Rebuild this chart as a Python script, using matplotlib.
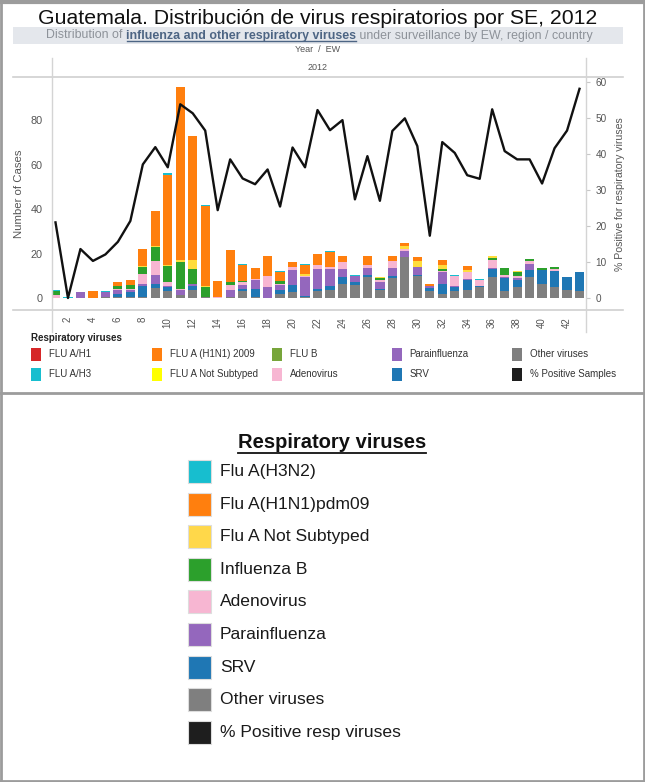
import numpy as np
import matplotlib
matplotlib.use("Agg")
import matplotlib.pyplot as plt
from matplotlib.patches import Rectangle
from matplotlib.lines import Line2D

plt.rcParams['font.family'] = ['Liberation Sans', 'DejaVu Sans']

# Data (epidemiological weeks 1..43)
weeks = np.arange(1, 44)
other = [0, 0, 0, 0, 0.5, 0.5, 0.5, 0.5, 4.5, 3, 1.5, 3.5, 0.5, 0, 0.5, 3, 0.5, 0, 2, 2.5, 0.5, 3,
         3.5, 6.5, 6, 9.5, 3.5, 9, 18.5, 10, 3, 2, 3, 3.5, 5, 9.5, 3, 5, 9.5, 6.5, 5, 3.5, 3]
srv = [0, 0, 0, 0, 0, 1.5, 2, 5, 2, 2, 0, 2, 0, 0, 0, 1, 3.5, 0, 1.5, 3.5, 0.5, 1,
       2, 3, 1, 1, 0.5, 1, 0, 0.5, 1.5, 4.5, 2, 4.5, 0.5, 3.5, 6, 3, 3, 6, 7, 6, 8.5]
parainfluenza = [0, 0, 2.5, 0, 2, 1.5, 1, 1, 4, 0.5, 2, 1, 0, 0, 3, 2, 4, 5, 2.5, 6.5, 8.5, 9,
                 7.5, 3.5, 3, 3, 3, 3.5, 2.5, 3.5, 1, 5, 0.5, 0.5, 0, 0.5, 0.5, 1, 3, 0, 0, 0, 0]
adenovirus = [1.5, 0, 0, 0, 0, 0.5, 0.5, 4.5, 6, 1.5, 0.5, 0, 0, 0.5, 2.5, 1, 0.5, 5, 0.5, 1.5, 0.5, 2,
              1, 3, 0, 1.5, 1, 3, 1, 0, 0, 0.5, 4.5, 3, 2.5, 3.5, 1, 1, 1, 0, 1, 0, 0]
flu_b = [1.5, 0, 0, 0, 0, 1.5, 2, 3, 6.5, 7.5, 12, 6.5, 4.5, 0, 1, 0.5, 0, 0, 1, 0, 0, 0,
         0, 0, 0, 0, 1, 0, 0, 0, 0, 1, 0, 0, 0, 1, 3, 1.5, 1, 1, 1, 0, 0]
not_subtyped = [0, 0, 0, 0, 0, 0, 0, 0.5, 0.5, 0.5, 1, 4, 0.5, 0, 0, 0, 0, 0, 0, 0, 1, 0,
                0, 0, 0, 0, 0.5, 0, 1.5, 2.5, 0, 2, 0, 1, 0, 1, 0, 0.5, 0, 0, 0, 0, 0]
h1n1_2009 = [0, 0, 0, 3, 0, 1.5, 2, 7.5, 15.5, 40.5, 78, 56, 36, 7, 14.5, 7.5, 5, 9, 4, 2, 4, 5,
             6.5, 3, 0, 4, 0, 2.5, 1, 2, 1, 2, 0, 2, 0, 0, 0, 0, 0, 0, 0, 0, 0]
h3 = [0.5, 0.3, 0, 0, 0.5, 0, 0, 0, 0, 0.5, 0, 0, 0.5, 0, 0, 0.5, 0, 0, 0.5, 0, 0.5, 0,
      0.5, 0, 0.5, 0, 0, 0, 0, 0, 0, 0, 0.5, 0, 0.5, 0, 0, 0, 0, 0, 0, 0, 0]
pct_positive = [21.0, 0, 13.6, 10.3, 12.1, 15.6, 21.4, 37.1, 41.9, 36.3, 53.8, 51.3, 46.5, 24.4,
                38.5, 33.2, 31.6, 35.7, 25.4, 41.8, 36.3, 52.2, 46.6, 49.4, 27.4, 39.4, 27.0,
                46.4, 49.9, 42.2, 17.3, 43.3, 40.3, 34.1, 33.1, 52.4, 40.8, 38.5, 38.5, 31.8,
                41.6, 46.5, 58.1]

stack = [
    (other, '#7f7f7f'),
    (srv, '#1f77b4'),
    (parainfluenza, '#9467bd'),
    (adenovirus, '#f7b6d2'),
    (flu_b, '#2ca02c'),
    (not_subtyped, '#ffdc3c'),
    (h1n1_2009, '#ff7f0e'),
    (h3, '#17becf'),
]

top_legend = [
    ('FLU A/H1', '#d62728'), ('FLU A/H3', '#17becf'),
    ('FLU A (H1N1) 2009', '#ff7f0e'), ('FLU A Not Subtyped', '#ffff00'),
    ('FLU B', '#77a53a'), ('Adenovirus', '#f7b6d2'),
    ('Parainfluenza', '#9467bd'), ('SRV', '#1f77b4'),
    ('Other viruses', '#7f7f7f'), ('% Positive Samples', '#1e1e1e'),
]
bottom_legend = [
    ('Flu A(H3N2)', '#17becf'), ('Flu A(H1N1)pdm09', '#ff7f0e'),
    ('Flu A Not Subtyped', '#ffd84a'), ('Influenza B', '#2ca02c'),
    ('Adenovirus', '#f7b6d2'), ('Parainfluenza', '#9467bd'),
    ('SRV', '#1f77b4'), ('Other viruses', '#7f7f7f'),
    ('% Positive resp viruses', '#1e1e1e'),
]

W, H = 645, 782


def fx(x):
    return x / W


def fy(y):
    return 1 - y / H


fig = plt.figure(figsize=(W / 100, H / 100), dpi=100)
fig.canvas.draw()
rend = fig.canvas.get_renderer()


def hline(x0, x1, y, color='#d4d4d4', lw=1.0):
    fig.add_artist(Line2D([fx(x0), fx(x1)], [fy(y), fy(y)], color=color, lw=lw))


def vline(x, y0, y1, color='#d4d4d4', lw=1.0):
    fig.add_artist(Line2D([fx(x), fx(x)], [fy(y0), fy(y1)], color=color, lw=lw))


def width_of(t):
    return t.get_window_extent(renderer=rend).width


# panel frames
frame = '#9c9c9c'
hline(0, W, 2, frame, 3)
hline(0, W, 393, frame, 2)
hline(0, W, 781, frame, 2)
vline(1, 0, H, frame, 2)
vline(644, 0, H, frame, 2)

# title, sized to span the same width as the original
title = fig.text(fx(318), fy(18), 'Guatemala. Distribución de virus respiratorios por SE, 2012',
                 ha='center', va='center', fontsize=15, color='#111111')
title.set_fontsize(15 * 560 / width_of(title))

# subtitle band
fig.add_artist(Rectangle((fx(13), fy(44)), fx(623) - fx(13), fy(27) - fy(44),
                         transform=fig.transFigure, facecolor='#e4e7ec', edgecolor='none'))
parts = [('Distribution of ', 'normal', '#8d9299'),
         ('influenza and other respiratory viruses', 'bold', '#4d6584'),
         (' under surveillance by EW, region / country', 'normal', '#8d9299')]
texts = [fig.text(0, fy(35.5), s, fontsize=8, fontweight=w, color=c, va='center')
         for s, w, c in parts]
scale = 548 / sum(width_of(t) for t in texts)
for t in texts:
    t.set_fontsize(8 * scale)
widths = [width_of(t) for t in texts]
x = 319 - sum(widths) / 2
for t, wd in zip(texts, widths):
    t.set_x(fx(x))
    x += wd
ux0 = 319 - sum(widths) / 2 + widths[0]
hline(ux0 + 1, ux0 + widths[1], 41, '#4d6584', 1.0)

# header
fig.text(fx(318), fy(50), 'Year  /  EW', ha='center', va='center', fontsize=6.5, color='#555555')
fig.text(fx(318), fy(68), '2012', ha='center', va='center', fontsize=6.5, color='#555555')
hline(13, 623, 77, '#d0d0d0', 1.2)
hline(13, 623, 310, '#d0d0d0', 1.2)
vline(52, 58, 332, '#d4d4d4')
vline(586, 58, 332, '#d4d4d4')

# main axes
ax = fig.add_axes([fx(52), fy(310), fx(586) - fx(52), fy(78) - fy(310)])
bottom = np.zeros(len(weeks))
for vals, col in stack:
    ax.bar(weeks, vals, width=0.74, bottom=bottom, color=col, linewidth=0)
    bottom += np.array(vals)
ax.set_xlim(0.72, 43.52)
ax.set_ylim(-5.4, 98.9)
ax.set_yticks([0, 20, 40, 60, 80])
ax.set_xticks(np.arange(2, 43, 2))
ax.set_xticklabels([str(w) for w in range(2, 43, 2)], rotation=90)
ax.tick_params(axis='y', length=0, pad=6.5, labelsize=7.8, labelcolor='#555555')
ax.tick_params(axis='x', length=0, pad=5, labelsize=7, labelcolor='#555555')
for s in ax.spines.values():
    s.set_visible(False)
ax.set_ylabel('Number of Cases', fontsize=8.2, color='#555555', labelpad=5)

ax2 = ax.twinx()
ax2.plot(weeks, pct_positive, color='#111111', lw=1.7)
ax2.set_ylim(-3.33, 61.1)
ax2.set_yticks([0, 10, 20, 30, 40, 50, 60])
ax2.tick_params(axis='y', length=3, width=0.8, color='#c8c8c8', pad=4,
                labelsize=7.2, labelcolor='#555555')
for s in ax2.spines.values():
    s.set_visible(False)
ax2.set_ylabel('% Positive for respiratory viruses', fontsize=7.6, color='#555555', labelpad=6)

# legend in the upper panel
fig.text(fx(31), fy(338), 'Respiratory viruses', fontsize=7, fontweight='bold',
         color='#222222', va='center')
col_x = [31, 152, 272, 392, 512]
row_y = [354, 374]
for i, (lab, col) in enumerate(top_legend):
    cx = col_x[i // 2]
    ry = row_y[i % 2]
    fig.add_artist(Rectangle((fx(cx), fy(ry + 6.5)), fx(10), 13 / H,
                             transform=fig.transFigure, facecolor=col, edgecolor='none'))
    fig.text(fx(cx + 17.5), fy(ry), lab, fontsize=7, color='#333333', va='center')

# lower panel legend
t = fig.text(fx(332), fy(443), 'Respiratory viruses', fontsize=14.5, fontweight='bold',
             ha='center', va='center', color='#111111')
bb = t.get_window_extent(renderer=rend)
hline(bb.x0, bb.x1, 453, '#111111', 1.3)
for i, (lab, col) in enumerate(bottom_legend):
    yc = 471.5 + i * 32.6
    fig.add_artist(Rectangle((fx(188), fy(yc + 11.5)), fx(23), 23 / H,
                             transform=fig.transFigure, facecolor=col,
                             edgecolor='#dddddd', lw=0.8))
    fig.text(fx(220), fy(yc), lab, fontsize=12.6, color='#1a1a1a', va='center')

fig.savefig('out.png', dpi=100)
